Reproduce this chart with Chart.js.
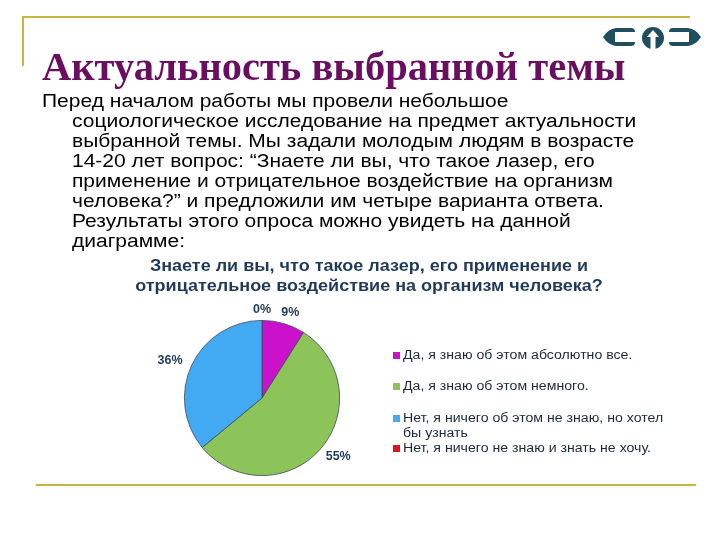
<!DOCTYPE html>
<html>
<head>
<meta charset="utf-8">
<script src="https://cdn.jsdelivr.net/npm/chart.js@4/dist/chart.umd.min.js"></script>
<style>
  body { margin: 0; background: #fff; }
  #wrap { position: relative; width: 720px; height: 540px; overflow: hidden; }
  #pie { position: absolute; left: 0; top: 0; }
  .rule { position: absolute; background: #c8b53e; }
  #title { position: absolute; left: 42px; top: 43px; font-family: "Liberation Serif", serif; font-weight: bold;
           font-size: 40.5px; color: #6a0f5f; white-space: nowrap; }
  #body { position: absolute; left: 42px; top: 91px; font-family: "Liberation Sans", Arial, sans-serif;
          font-size: 18px; line-height: 20px; color: #000; white-space: nowrap;
          transform: scaleX(1.167); transform-origin: 0 0; }
  #body span { display: block; padding-left: 25.7px; }
  #body span.first { padding-left: 0; }
  #ctitle { position: absolute; left: 0; width: 738px; top: 256px; text-align: center; font-family: "Liberation Sans", Arial, sans-serif;
            font-weight: bold; font-size: 16px; line-height: 20px; color: #1f3a5a;
            transform: scaleX(1.125); transform-origin: 369px 0; }
  #logo { position: absolute; left: 600px; top: 24px; }
</style>
</head>
<body>
<div id="wrap">
  <canvas id="pie" width="720" height="540"></canvas>
  <div class="rule" style="left:22px; top:16px; width:668px; height:2px;"></div>
  <div class="rule" style="left:22px; top:16px; width:2px; height:50px;"></div>
  <div class="rule" style="left:36px; top:484px; width:660px; height:2px;"></div>
  <svg id="logo" width="104" height="26" viewBox="0 0 104 26">
    <!-- назад -->
    <path d="M3 13 Q8 5 16 4 L31 4 Q35 4 35 8 L15 8 L15 18 L35 18 Q35 22 31 22 L16 22 Q8 21 3 13 Z" fill="#1f4f5f"/>
    <!-- вверх -->
    <circle cx="53" cy="14" r="11" fill="#1f4f5f"/>
    <path d="M53 6 L59 13 L55.5 13 L55.5 25 L50.5 25 L50.5 13 L47 13 Z" fill="#fff"/>
    <!-- вперёд -->
    <path d="M101 13 Q96 5 88 4 L73 4 Q69 4 69 8 L89 8 L89 18 L69 18 Q69 22 73 22 L88 22 Q96 21 101 13 Z" fill="#1f4f5f"/>
  </svg>
  <div id="title">Актуальность выбранной темы</div>
  <div id="body">
    <span class="first">Перед началом работы мы провели небольшое</span>
    <span>социологическое исследование на предмет актуальности</span>
    <span>выбранной темы. Мы задали молодым людям в возрасте</span>
    <span>14-20 лет вопрос: “Знаете ли вы, что такое лазер, его</span>
    <span>применение и отрицательное воздействие на организм</span>
    <span>человека?” и предложили им четыре варианта ответа.</span>
    <span>Результаты этого опроса можно увидеть на данной</span>
    <span>диаграмме:</span>
  </div>
  <div id="ctitle">Знаете ли вы, что такое лазер, его применение и<br>отрицательное воздействие на организм человека?</div>
</div>
<script>
// данные опроса
const answers = [
  "Да, я знаю об этом абсолютно все.",
  "Да, я знаю об этом немного.",
  "Нет, я ничего об этом не знаю, но хотел бы узнать",
  "Нет, я ничего не знаю и знать не хочу."
];
const shares = [9, 55, 36, 0];
const colors = ["#cc11cc", "#8cc45a", "#42aaf2", "#e0141e"];

// подписи легенды (с переносом строк как на слайде)
const legendLines = [
  ["Да, я знаю об этом абсолютно все."],
  ["Да, я знаю об этом немного."],
  ["Нет, я ничего об этом не знаю, но хотел", "бы узнать"],
  ["Нет, я ничего не знаю и знать не хочу."]
];
const legendY = [356, 387, 419, 449];

const labelsPlugin = {
  id: "pieLabels",
  afterDatasetsDraw(chart) {
    const ctx = chart.ctx;
    const meta = chart.getDatasetMeta(0);
    ctx.save();
    ctx.font = "bold 12.5px 'Liberation Sans', Arial, sans-serif";
    ctx.fillStyle = "#1f3a5a";
    ctx.textAlign = "center";
    ctx.textBaseline = "middle";
    meta.data.forEach(function(arc, i) {
      const mid = (arc.startAngle + arc.endAngle) / 2;
      const rx = arc.outerRadius + 24, ry = arc.outerRadius + 11;
      ctx.fillText(shares[i] + "%", arc.x + Math.cos(mid) * rx, arc.y + Math.sin(mid) * ry);
    });
    ctx.restore();

    // легенда справа
    ctx.save();
    ctx.font = "12.5px 'Liberation Sans', Arial, sans-serif";
    ctx.textBaseline = "middle";
    ctx.textAlign = "left";
    for (let i = 0; i < answers.length; i++) {
      ctx.fillStyle = colors[i];
      ctx.fillRect(393, legendY[i] - 4, 7, 7);
    }
    ctx.translate(403, 0);
    ctx.scale(1.13, 1);
    ctx.fillStyle = "#1c2a3a";
    for (let i = 0; i < answers.length; i++) {
      legendLines[i].forEach(function(line, j) {
        ctx.fillText(line, 0, legendY[i] + j * 15);
      });
    }
    ctx.restore();
  }
};

new Chart(document.getElementById("pie"), {
  type: "pie",
  data: {
    labels: answers,
    datasets: [{
      data: shares,
      backgroundColor: colors,
      borderColor: "#3a4a55",
      borderWidth: 0.8
    }]
  },
  options: {
    responsive: false,
    animation: false,
    layout: { padding: { left: 184, right: 380, top: 320, bottom: 64 } },
    plugins: {
      legend: { display: false },
      tooltip: { enabled: false }
    }
  },
  plugins: [labelsPlugin]
});
</script>
</body>
</html>
